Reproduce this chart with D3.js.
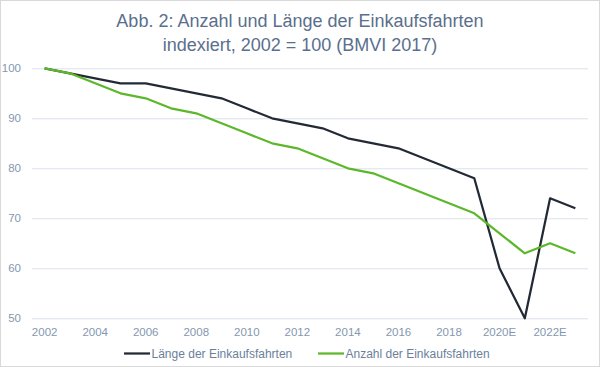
<!DOCTYPE html>
<html>
<head>
<meta charset="utf-8">
<script src="https://cdn.jsdelivr.net/npm/d3@7"></script>
<style>
  body { margin: 0; background: #fff; }
  svg { display: block; font-family: "Liberation Sans", Arial, sans-serif; }
</style>
</head>
<body>
<svg id="chart" width="600" height="367"></svg>
<script>
const years = ['2002','2003','2004','2005','2006','2007','2008','2009','2010','2011','2012',
  '2013','2014','2015','2016','2017','2018','2019','2020','2021','2022','2023'];
const tickLabels = ['2002','2004','2006','2008','2010','2012','2014','2016','2018','2020E','2022E'];
const laenge = [100,99,98,97,97,96,95,94,92,90,89,88,86,85,84,82,80,78,60,50,74,72];
const anzahl = [100,99,97,95,94,92,91,89,87,85,84,82,80,79,77,75,73,71,67,63,65,63];
const yTicks = [50,60,70,80,90,100];

const series = [
  {name: 'Länge der Einkaufsfahrten', values: laenge, color: '#222a35'},
  {name: 'Anzahl der Einkaufsfahrten', values: anzahl, color: '#5cb82a'}
];

const svg = d3.select('#chart');

// outer frame
svg.append('rect')
  .attr('x', 0.5).attr('y', 0.5)
  .attr('width', 599).attr('height', 366)
  .attr('fill', '#fff').attr('stroke', '#d9d9d9');

// title
const title = svg.append('text')
  .attr('text-anchor', 'middle')
  .attr('fill', '#5a6f8d')
  .attr('font-size', 18);
title.append('tspan').attr('x', 300).attr('y', 26.5)
  .text('Abb. 2: Anzahl und Länge der Einkaufsfahrten');
title.append('tspan').attr('x', 300).attr('y', 50.5)
  .text('indexiert, 2002 = 100 (BMVI 2017)');

const x = d3.scaleBand().domain(years).range([32, 588]).padding(0);
const y = d3.scaleLinear().domain([50, 100]).range([318.3, 68.3]);

// gridlines + y labels
const yAxis = svg.append('g')
  .attr('transform', 'translate(32,0)')
  .call(d3.axisLeft(y).tickValues(yTicks).tickSize(-556).tickPadding(11));
yAxis.select('.domain').remove();
yAxis.selectAll('.tick line').attr('stroke', '#d9e1ea').attr('stroke-width', 1);
yAxis.selectAll('.tick text')
  .attr('fill', '#8497b0').attr('font-size', 11.5)
  .attr('font-family', '"Liberation Sans", Arial, sans-serif');

// x labels
const labelMap = {};
tickLabels.forEach(t => { labelMap[t.slice(0, 4)] = t; });
const xAxis = svg.append('g')
  .attr('transform', 'translate(0,318.3)')
  .call(d3.axisBottom(x)
    .tickValues(years.filter(yr => labelMap[yr]))
    .tickFormat(yr => labelMap[yr])
    .tickSize(0).tickPadding(10));
xAxis.select('.domain').remove();
xAxis.selectAll('.tick text')
  .attr('fill', '#8497b0').attr('font-size', 11.5)
  .attr('font-family', '"Liberation Sans", Arial, sans-serif');

// lines
const line = d3.line()
  .x((d, i) => x(years[i]) + x.bandwidth() / 2)
  .y(d => y(d));

svg.selectAll('.series')
  .data(series)
  .enter().append('path')
  .attr('class', 'series')
  .attr('d', d => line(d.values))
  .attr('fill', 'none')
  .attr('stroke', d => d.color)
  .attr('stroke-width', 2.25)
  .attr('stroke-linejoin', 'round');

// legend
const legendX = [124, 318];
const legend = svg.selectAll('.legend')
  .data(series)
  .enter().append('g')
  .attr('class', 'legend')
  .attr('transform', (d, i) => `translate(${legendX[i]},353.5)`);
legend.append('line')
  .attr('x1', 0).attr('x2', 26)
  .attr('stroke', d => d.color).attr('stroke-width', 2.25);
legend.append('text')
  .attr('x', 27.5).attr('y', 4.3)
  .attr('fill', '#6b7f9b').attr('font-size', 12)
  .text(d => d.name);
</script>
</body>
</html>
